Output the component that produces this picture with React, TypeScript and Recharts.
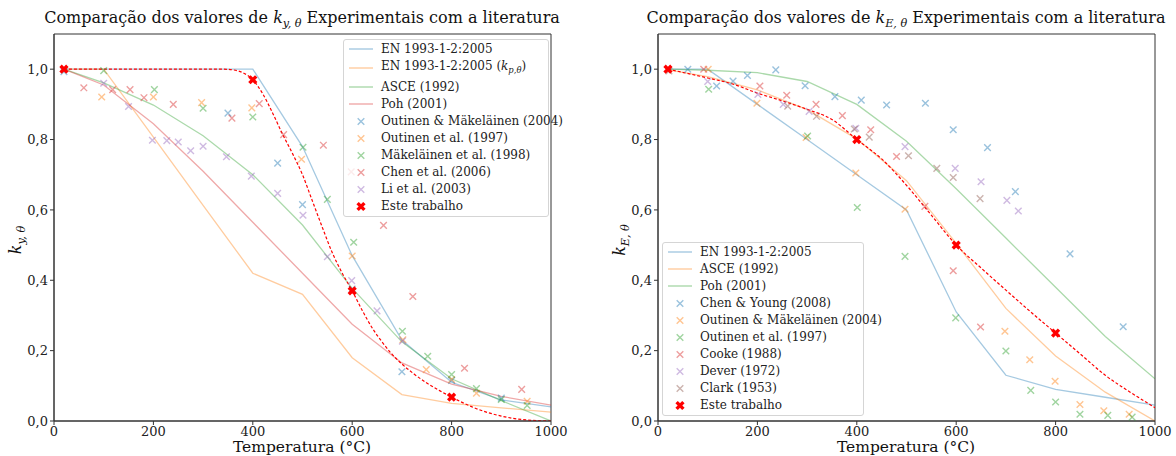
import React from "react";
import { ComposedChart, Line, Scatter, XAxis, YAxis, ReferenceArea } from "recharts";

const FONT = "'DejaVu Serif', serif";

type Pt = [number, number];

// temperaturas das curvas de referência (°C)
const temps = [20, 100, 200, 300, 400, 500, 600, 700, 800, 900, 1000];

// ---- k_y,θ ----
const kyEN = [1, 1, 1, 1, 1, 0.78, 0.47, 0.23, 0.11, 0.06, 0.04];
const kpEN = [1, 1, 0.807, 0.613, 0.42, 0.36, 0.18, 0.075, 0.05, 0.0375, 0.025];
const kyASCE = [1, 0.961, 0.898, 0.811, 0.7, 0.557, 0.377, 0.225, 0.12, 0.058, 0.0];
const kyPoh = [1, 0.955, 0.845, 0.71, 0.565, 0.42, 0.275, 0.165, 0.105, 0.07, 0.045];

const kyOutinenMak2004: Pt[] = [
  [20, 0.993], [350, 0.875], [450, 0.733], [500, 0.615], [600, 0.375], [700, 0.14], [800, 0.115], [900, 0.065],
];
const kyOutinen1997: Pt[] = [
  [96, 0.921], [200, 0.921], [297, 0.905], [398, 0.89], [498, 0.744], [600, 0.469], [702, 0.231],
  [749, 0.146], [800, 0.118], [850, 0.079], [952, 0.056],
];
const kyMakelainen1998: Pt[] = [
  [100, 0.996], [202, 0.942], [300, 0.889], [400, 0.864], [501, 0.778], [550, 0.63], [603, 0.508],
  [701, 0.255], [752, 0.184], [800, 0.132], [850, 0.092], [900, 0.061], [952, 0.044],
];
const kyChen2006: Pt[] = [
  [60, 0.947], [118, 0.942], [153, 0.942], [181, 0.919], [240, 0.9], [358, 0.861], [413, 0.902],
  [462, 0.814], [542, 0.784], [598, 0.708], [663, 0.556], [722, 0.354], [826, 0.15], [941, 0.09],
];
const kyLi2003: Pt[] = [
  [100, 0.96], [150, 0.894], [198, 0.798], [227, 0.797], [250, 0.793], [275, 0.768], [300, 0.781],
  [347, 0.751], [397, 0.696], [450, 0.647], [501, 0.585], [550, 0.467], [599, 0.399], [650, 0.313], [701, 0.227],
];
const kyEste: Pt[] = [[20, 1.0], [400, 0.97], [600, 0.37], [800, 0.068]];
const kyEsteFit: Pt[] = [
  [20, 1.0], [100, 1.0], [200, 1.0], [300, 1.0], [340, 1.0], [360, 0.998], [380, 0.99], [400, 0.97],
  [420, 0.93], [440, 0.875], [460, 0.815], [480, 0.76], [500, 0.7], [520, 0.625], [540, 0.55],
  [560, 0.478], [580, 0.42], [600, 0.37], [620, 0.315], [640, 0.265], [660, 0.225], [680, 0.19],
  [700, 0.162], [725, 0.133], [750, 0.108], [775, 0.087], [800, 0.068], [850, 0.035], [900, 0.014],
  [950, 0.003], [1000, 0.0],
];

// ---- k_E,θ ----
const kEEN = [1, 1, 0.9, 0.8, 0.7, 0.6, 0.31, 0.13, 0.09, 0.0675, 0.045];
const kEASCE = [0.998, 0.979, 0.941, 0.885, 0.802, 0.683, 0.505, 0.32, 0.185, 0.082, 0.0];
const kEPoh = [1, 0.997, 0.99, 0.965, 0.9, 0.795, 0.66, 0.52, 0.38, 0.24, 0.12];

const kEChenYoung2008: Pt[] = [
  [60, 1.0], [118, 0.952], [151, 0.966], [180, 0.982], [237, 0.998], [296, 0.953], [356, 0.922],
  [409, 0.912], [460, 0.898], [538, 0.903], [594, 0.828], [663, 0.777], [719, 0.652], [829, 0.475], [936, 0.268],
];
const kEOutinenMak2004: Pt[] = [
  [101, 1.0], [199, 0.903], [298, 0.806], [398, 0.705], [497, 0.602], [698, 0.255], [748, 0.174],
  [799, 0.113], [849, 0.047], [897, 0.029], [948, 0.019],
];
const kEOutinen1997: Pt[] = [
  [102, 0.943], [301, 0.81], [401, 0.607], [497, 0.468], [599, 0.293], [700, 0.199], [750, 0.087],
  [800, 0.054], [849, 0.019], [905, 0.016], [954, 0.011],
];
const kECooke1988: Pt[] = [
  [92, 1.0], [205, 0.952], [259, 0.926], [318, 0.9], [371, 0.868], [428, 0.828], [480, 0.752],
  [537, 0.61], [594, 0.427], [649, 0.267],
];
const kEDever1972: Pt[] = [
  [100, 0.965], [201, 0.928], [252, 0.9], [304, 0.88], [398, 0.832], [497, 0.78], [598, 0.718],
  [650, 0.68], [702, 0.627], [725, 0.597],
];
const kEClark1953: Pt[] = [
  [22, 0.995], [261, 0.895], [319, 0.866], [395, 0.83], [425, 0.807], [504, 0.754], [561, 0.718],
  [594, 0.692], [648, 0.632],
];
const kEEste: Pt[] = [[20, 1.0], [400, 0.8], [600, 0.5], [800, 0.25]];
const kEEsteFit: Pt[] = [
  [20, 1.0], [100, 0.975], [150, 0.958], [200, 0.932], [250, 0.91], [300, 0.886], [350, 0.857],
  [400, 0.8], [450, 0.745], [500, 0.67], [550, 0.585], [600, 0.5], [650, 0.435], [700, 0.372],
  [750, 0.31], [800, 0.25], [850, 0.19], [900, 0.13], [950, 0.082], [1000, 0.038],
];

const xTicks = [0, 200, 400, 600, 800, 1000];
const yTicks = [0, 0.2, 0.4, 0.6, 0.8, 1.0];

const C = {
  blue: "#1f77b4",
  orange: "#ff7f0e",
  green: "#2ca02c",
  red: "#d62728",
  purple: "#9467bd",
  brown: "#8c564b",
};

const curve = (ks: number[]) => temps.map((t, i) => ({ t, k: ks[i] }));
const rows = (pts: Pt[]) => pts.map(([t, k]) => ({ t, k }));

const crossShape = (color: string) => (props: any) => {
  const { cx, cy } = props;
  const r = 3.3;
  return (
    <path
      d={`M${cx - r},${cy - r}L${cx + r},${cy + r}M${cx - r},${cy + r}L${cx + r},${cy - r}`}
      stroke={color}
      strokeOpacity={0.45}
      strokeWidth={1.4}
      fill="none"
    />
  );
};

// marcador "X" cheio dos ensaios deste trabalho
const boldXShape = (props: any) => {
  const { cx, cy } = props;
  const r = 3.4;
  return (
    <path
      d={`M${cx - r},${cy - r}L${cx + r},${cy + r}M${cx - r},${cy + r}L${cx + r},${cy - r}`}
      stroke="#ff0000"
      strokeWidth={3.4}
      fill="none"
    />
  );
};

type LineSeries = { name: React.ReactNode; color: string; values: number[] };
type PointSeries = { name: React.ReactNode; color: string; points: Pt[] };

const sub = (s: string) => (
  <span>
    <i>k</i>
    <sub style={{ fontSize: "0.7em", fontStyle: "italic" }}>{s}</sub>
  </span>
);

const leftLines: LineSeries[] = [
  { name: "EN 1993-1-2:2005", color: C.blue, values: kyEN },
  { name: <span>EN 1993-1-2:2005 ({sub("p,θ")})</span>, color: C.orange, values: kpEN },
  { name: "ASCE (1992)", color: C.green, values: kyASCE },
  { name: "Poh (2001)", color: C.red, values: kyPoh },
];
const leftPoints: PointSeries[] = [
  { name: "Outinen & Mäkeläinen (2004)", color: C.blue, points: kyOutinenMak2004 },
  { name: "Outinen et al. (1997)", color: C.orange, points: kyOutinen1997 },
  { name: "Mäkeläinen et al. (1998)", color: C.green, points: kyMakelainen1998 },
  { name: "Chen et al. (2006)", color: C.red, points: kyChen2006 },
  { name: "Li et al. (2003)", color: C.purple, points: kyLi2003 },
];
const rightLines: LineSeries[] = [
  { name: "EN 1993-1-2:2005", color: C.blue, values: kEEN },
  { name: "ASCE (1992)", color: C.orange, values: kEASCE },
  { name: "Poh (2001)", color: C.green, values: kEPoh },
];
const rightPoints: PointSeries[] = [
  { name: "Chen & Young (2008)", color: C.blue, points: kEChenYoung2008 },
  { name: "Outinen & Mäkeläinen (2004)", color: C.orange, points: kEOutinenMak2004 },
  { name: "Outinen et al. (1997)", color: C.green, points: kEOutinen1997 },
  { name: "Cooke (1988)", color: C.red, points: kECooke1988 },
  { name: "Dever (1972)", color: C.purple, points: kEDever1972 },
  { name: "Clark (1953)", color: C.brown, points: kEClark1953 },
];

function LegendBox(props: {
  left: number;
  top: number;
  width: number;
  lines: LineSeries[];
  points: PointSeries[];
  tallRow?: number;
}) {
  const items: { name: React.ReactNode; color: string; kind: string }[] = [
    ...props.lines.map((l) => ({ name: l.name, color: l.color, kind: "line" })),
    ...props.points.map((p) => ({ name: p.name, color: p.color, kind: "cross" })),
    { name: "Este trabalho", color: "#ff0000", kind: "mark" },
  ];
  return (
    <div
      style={{
        position: "absolute",
        left: props.left,
        top: props.top,
        width: props.width,
        background: "rgba(255,255,255,0.8)",
        border: "1px solid #d5d5d5",
        borderRadius: 3,
        paddingBottom: 2,
        fontFamily: FONT,
        fontSize: 12,
        color: "#222",
      }}
    >
      {items.map((it, i) => (
        <div key={i} style={{ display: "flex", alignItems: "center", height: i === props.tallRow ? 21 : 17 }}>
          <svg width={34} height={14} style={{ flex: "none", marginLeft: 3 }}>
            {it.kind === "line" && (
              <line x1={2} x2={26} y1={7} y2={7} stroke={it.color} strokeOpacity={0.4} strokeWidth={1.4} />
            )}
            {it.kind === "cross" && crossShape(it.color)({ cx: 14, cy: 7.5 })}
            {it.kind === "mark" && boldXShape({ cx: 14, cy: 7.5 })}
          </svg>
          <span style={{ whiteSpace: "nowrap" }}>{it.name}</span>
        </div>
      ))}
    </div>
  );
}

const tickStyle = { fontSize: 13, fill: "#222", fontFamily: FONT };
const fmt = (v: number) => v.toFixed(1).replace(".", ",");

function Panel(props: {
  width: number;
  yAxisWidth: number;
  lines: LineSeries[];
  points: PointSeries[];
  este: Pt[];
  esteFit: Pt[];
}) {
  return (
    <ComposedChart
      width={props.width}
      height={456}
      margin={{ top: 34, right: props.width - props.yAxisWidth - 497, bottom: 5, left: 0 }}
    >
      <XAxis
        type="number"
        dataKey="t"
        domain={[0, 1000]}
        ticks={xTicks}
        allowDataOverflow
        height={30}
        tickSize={4}
        tick={tickStyle}
        stroke="#333"
      />
      <YAxis
        type="number"
        dataKey="k"
        domain={[0, 1.1]}
        ticks={yTicks}
        allowDataOverflow
        width={props.yAxisWidth}
        tickSize={4}
        tick={tickStyle}
        tickFormatter={fmt}
        stroke="#333"
      />
      <ReferenceArea x1={0} x2={1000} y1={0} y2={1.1} fill="none" stroke="#333" strokeWidth={1} />
      {props.lines.map((l, i) => (
        <Line
          key={"l" + i}
          data={curve(l.values)}
          dataKey="k"
          type="linear"
          stroke={l.color}
          strokeOpacity={0.4}
          strokeWidth={1.3}
          dot={false}
          activeDot={false}
          isAnimationActive={false}
        />
      ))}
      {props.points.map((p, i) => (
        <Scatter
          key={"p" + i}
          data={rows(p.points)}
          dataKey="k"
          shape={crossShape(p.color)}
          isAnimationActive={false}
        />
      ))}
      <Line
        data={rows(props.esteFit)}
        dataKey="k"
        type="monotone"
        stroke="#ff0000"
        strokeWidth={1.2}
        strokeDasharray="3 2"
        dot={false}
        activeDot={false}
        isAnimationActive={false}
      />
      <Scatter data={rows(props.este)} dataKey="k" shape={boldXShape} isAnimationActive={false} />
    </ComposedChart>
  );
}

const titleStyle: React.CSSProperties = {
  position: "absolute",
  top: 8,
  fontFamily: FONT,
  fontSize: 16,
  color: "#111",
  whiteSpace: "nowrap",
  transform: "translateX(-50%)",
};
const xLabelStyle: React.CSSProperties = {
  position: "absolute",
  top: 438,
  fontFamily: FONT,
  fontSize: 15.5,
  color: "#111",
  whiteSpace: "nowrap",
  transform: "translateX(-50%)",
};
const yLabelStyle: React.CSSProperties = {
  position: "absolute",
  top: 240,
  fontFamily: FONT,
  fontSize: 16,
  color: "#111",
  whiteSpace: "nowrap",
  transform: "translate(-50%, -50%) rotate(-90deg)",
};

export default function App() {
  return (
    <div style={{ position: "absolute", left: 0, top: 0, width: 1176, height: 456, background: "#fff" }}>
      <div style={{ position: "absolute", left: 0, top: 0 }}>
        <Panel width={590} yAxisWidth={54} lines={leftLines} points={leftPoints} este={kyEste} esteFit={kyEsteFit} />
      </div>
      <div style={{ position: "absolute", left: 590, top: 0 }}>
        <Panel width={586} yAxisWidth={68} lines={rightLines} points={rightPoints} este={kEEste} esteFit={kEEsteFit} />
      </div>

      <div style={{ ...titleStyle, left: 302 }}>
        Comparação dos valores de {sub("y, θ")} Experimentais com a literatura
      </div>
      <div style={{ ...titleStyle, left: 906 }}>
        Comparação dos valores de {sub("E, θ")} Experimentais com a literatura
      </div>

      <div style={{ ...xLabelStyle, left: 302 }}>Temperatura (°C)</div>
      <div style={{ ...xLabelStyle, left: 906 }}>Temperatura (°C)</div>
      <div style={{ ...yLabelStyle, left: 17 }}>{sub("y, θ")}</div>
      <div style={{ ...yLabelStyle, left: 621 }}>{sub("E, θ")}</div>

      <LegendBox left={343} top={39} width={204} lines={leftLines} points={leftPoints} tallRow={1} />
      <LegendBox left={662} top={242} width={200} lines={rightLines} points={rightPoints} />
    </div>
  );
}
